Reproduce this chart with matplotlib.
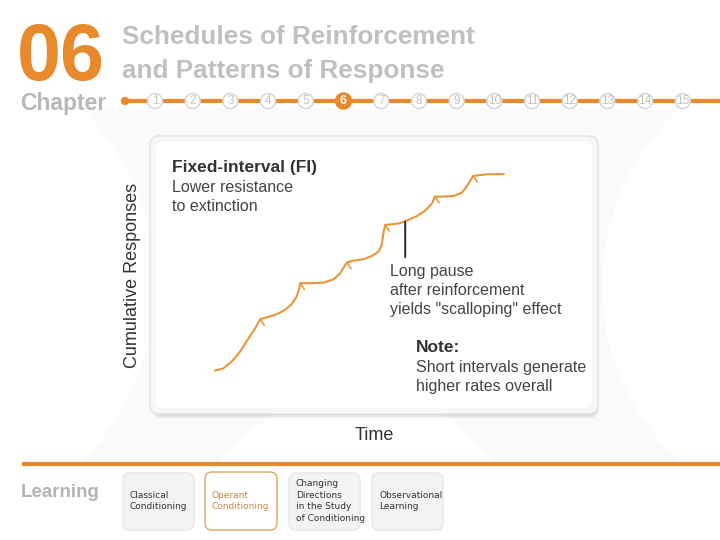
import matplotlib
matplotlib.use("Agg")
import matplotlib.pyplot as plt
from matplotlib.patches import FancyBboxPatch, Circle, Rectangle

# 固定间隔强化的累积反应曲线 (扇形效应)
time = [14.2, 16.0, 17.9, 19.8, 21.7, 23.2, 24.3,
        25.8, 28.0, 29.9, 31.4, 32.5, 33.1, 33.3,
        35.5, 38.5, 40.8, 42.3, 43.4, 43.8,
        45.2, 47.5, 49.4, 50.9, 51.6, 52.0, 52.4,
        53.9, 55.7, 57.6, 59.5, 61.4, 62.9, 63.6,
        65.5, 67.7, 69.6, 70.7, 71.6, 72.2,
        75.2, 79.0]
responses = [15.4, 16.2, 18.7, 22.3, 27.2, 30.8, 34.1,
             34.8, 35.9, 37.5, 39.6, 42.3, 45.3, 47.2,
             47.2, 47.4, 48.6, 50.8, 53.8, 54.7,
             55.4, 55.9, 57.1, 58.7, 61.1, 65.3, 68.4,
             68.6, 69.0, 70.2, 71.6, 73.6, 76.2, 78.7,
             78.7, 78.9, 80.1, 82.3, 84.7, 86.2,
             86.8, 86.9]
# 强化点
rf_time = [24.3, 33.3, 43.8, 52.4, 63.6, 72.2]
rf_resp = [34.1, 47.2, 54.7, 68.4, 78.7, 86.2]
pause_point = (56.9, 69.6)

chapters = list(range(1, 16))
current_chapter = 6
tabs = ["Classical\nConditioning", "Operant\nConditioning",
        "Changing\nDirections\nin the Study\nof Conditioning", "Observational\nLearning"]
current_tab = 1

orange = '#E8892B'
plt.rcParams['font.family'] = ['Liberation Sans', 'DejaVu Sans']

fig = plt.figure(figsize=(7.2, 5.4), dpi=100)
fig.patch.set_facecolor('white')

# 背景层，像素坐标
bg = fig.add_axes([0, 0, 1, 1])
bg.set_xlim(0, 720)
bg.set_ylim(540, 0)
bg.axis('off')

# 淡淡的背景圆形图案
band = Rectangle((0, 108), 720, 354, facecolor='#fafafa', lw=0, zorder=0)
bg.add_patch(band)
for c, rad in [((-95, 285), 250), ((842, 285), 240), ((357, 565), 172)]:
    p = Circle(c, rad, facecolor='white', lw=0, zorder=0.5)
    bg.add_patch(p)
    p.set_clip_path(band)

# 标题区
bg.text(17, 80, "06", fontsize=57, fontweight='bold', color=orange, va='baseline')
bg.text(20, 110, "Chapter", fontsize=16.5, fontweight='bold', color='#b8b8b8', va='baseline')
bg.text(122, 43.5, "Schedules of Reinforcement", fontsize=18.8, fontweight='bold', color='#c0c0c0',
        va='baseline')
bg.text(122, 78, "and Patterns of Response", fontsize=18.8, fontweight='bold', color='#c0c0c0',
        va='baseline')

# 章节进度条
bg.plot([125, 720], [101, 101], color=orange, lw=3, solid_capstyle='butt', zorder=1)
bg.add_patch(Circle((125, 101), 3.5, color=orange, zorder=2))
for i, n in enumerate(chapters):
    cx = 155 + i * 37.7
    if n == current_chapter:
        bg.add_patch(Circle((cx, 101), 8, facecolor=orange, edgecolor=orange, zorder=3))
        bg.text(cx, 101.5, str(n), fontsize=9, fontweight='bold', color='white',
                ha='center', va='center', zorder=4)
    else:
        bg.add_patch(Circle((cx, 101), 7.5, facecolor='white', edgecolor='#d3d3d3', lw=1, zorder=3))
        bg.text(cx, 101.5, str(n), fontsize=8.5, color='#c2c2c2',
                ha='center', va='center', zorder=4)

# 面板
for k, a in enumerate([0.05, 0.05, 0.05]):
    bg.add_patch(FancyBboxPatch((151 + k, 138 + k * 1.5), 446, 277,
                                boxstyle="round,pad=0,rounding_size=9",
                                facecolor='black', alpha=a, lw=0, zorder=1))
bg.add_patch(FancyBboxPatch((150, 136), 448, 278, boxstyle="round,pad=0,rounding_size=9",
                            facecolor='#f7f7f7', edgecolor='#e2e2e2', lw=1, zorder=2))
bg.add_patch(FancyBboxPatch((156, 142), 436, 266, boxstyle="round,pad=0,rounding_size=6",
                            facecolor='white', lw=0, zorder=2))

# 底部
bg.plot([22, 720], [464, 464], color=orange, lw=3, solid_capstyle='butt')
bg.text(21, 497, "Learning", fontsize=13.5, fontweight='bold', color='#b5b5b5', va='baseline')
tab_x = [123, 205, 289, 372]
for i, label in enumerate(tabs):
    x0 = tab_x[i]
    if i == current_tab:
        bg.add_patch(FancyBboxPatch((x0, 472), 72, 58, boxstyle="round,pad=0,rounding_size=7",
                                    facecolor='white', edgecolor='#dba565', lw=1))
        color = '#c98a3e'
    else:
        bg.add_patch(FancyBboxPatch((x0, 473), 71, 57, boxstyle="round,pad=0,rounding_size=7",
                                    facecolor='#f3f3f3', edgecolor='#e8e8e8', lw=1))
        color = '#333333'
    bg.text(x0 + 7, 501, label, fontsize=6.5, color=color, family=['DejaVu Sans'],
            ha='left', va='center', linespacing=1.35)

# 图表
ax = fig.add_axes([152 / 720, 1 - 413 / 540, 445 / 720, 275 / 540])
ax.patch.set_visible(False)
ax.set_xlim(0, 100)
ax.set_ylim(0, 100)
for s in ax.spines.values():
    s.set_visible(False)
ax.set_xticks([])
ax.set_yticks([])
ax.set_ylabel("Cumulative Responses", fontsize=13, color='#333333', labelpad=8)
ax.set_xlabel("Time", fontsize=13, color='#333333', labelpad=10)

ax.plot(time, responses, color='#E8963A', lw=1.5, solid_joinstyle='round')
for t, r in zip(rf_time, rf_resp):
    ax.annotate('', xy=(t, r), xytext=(3, -4.5), textcoords='offset points',
                arrowprops=dict(arrowstyle='-', color='#E8963A', lw=1.1, shrinkA=0, shrinkB=0))

ax.annotate('', xy=pause_point, xytext=(pause_point[0], 56.7),
            arrowprops=dict(arrowstyle='-', color='#333333', lw=1.5, shrinkA=0, shrinkB=0))

ax.text(4.5, 87.6, "Fixed-interval (FI)", fontsize=12.5, fontweight='bold', color='#333333', va='baseline')
ax.text(4.5, 80.4, "Lower resistance", fontsize=11.5, color='#444444', va='baseline')
ax.text(4.5, 73.5, "to extinction", fontsize=11.5, color='#444444', va='baseline')
ax.text(53.5, 49.8, "Long pause", fontsize=11.5, color='#444444', va='baseline')
ax.text(53.5, 42.9, "after reinforcement", fontsize=11.5, color='#444444', va='baseline')
ax.text(53.5, 36.0, "yields \"scalloping\" effect", fontsize=11.5, color='#444444', va='baseline')
ax.text(59.3, 22.2, "Note:", fontsize=12.5, fontweight='bold', color='#333333', va='baseline')
ax.text(59.3, 14.9, "Short intervals generate", fontsize=11.5, color='#444444', va='baseline')
ax.text(59.3, 8.0, "higher rates overall", fontsize=11.5, color='#444444', va='baseline')

fig.savefig("out.png", dpi=100)
